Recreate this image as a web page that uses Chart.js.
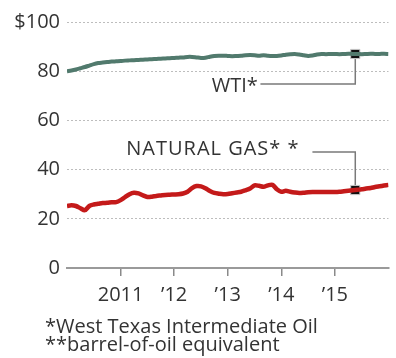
<!DOCTYPE html>
<html>
<head>
<meta charset="utf-8">
<script src="https://cdn.jsdelivr.net/npm/chart.js@4"></script>
<style>
  body { margin: 0; background: #fff; }
  canvas { display: block; }
</style>
</head>
<body>
<canvas id="chart" width="396" height="358"></canvas>
<script>
// monthly values, Jan 2010 to Jan 2016
const startYear = 2010;
const wti = [
  80.0, 80.3, 80.7, 81.2, 81.7, 82.3, 82.9, 83.3, 83.5, 83.7, 83.9, 84.0,
  84.1, 84.3, 84.4, 84.5, 84.6, 84.7, 84.8, 84.9, 85.0, 85.1, 85.2, 85.3,
  85.4, 85.5, 85.6, 85.8, 85.8, 85.6, 85.4, 85.5, 85.9, 86.2, 86.3, 86.3,
  86.2, 86.1, 86.2, 86.3, 86.5, 86.6, 86.5, 86.3, 86.5, 86.3, 86.2, 86.2,
  86.4, 86.7, 86.9, 87.0, 86.8, 86.5, 86.2, 86.4, 86.8, 87.0, 86.9, 87.0,
  87.0, 86.9, 87.0, 87.1, 87.0, 87.0, 86.9, 87.0, 87.1, 87.0, 87.0, 87.1,
  87.0
];
const naturalGas = [
  25.2, 25.5, 25.2, 24.3, 23.5, 25.2, 25.8, 26.1, 26.4, 26.5, 26.7, 26.8,
  27.6, 28.8, 30.0, 30.6, 30.3, 29.5, 28.9, 29.0, 29.3, 29.5, 29.7, 29.8,
  29.9, 30.0, 30.3, 31.0, 32.5, 33.3, 33.2, 32.4, 31.3, 30.5, 30.2, 30.0,
  30.1, 30.4, 30.7, 31.0, 31.6, 32.3, 33.6, 33.4, 33.0, 33.6, 33.8, 32.0,
  31.0, 31.4, 31.0, 30.7, 30.5, 30.6, 30.8, 30.9, 30.9, 30.9, 30.9, 30.9,
  30.9, 31.0, 31.2, 31.4, 31.6, 31.8, 32.0, 32.3, 32.5, 32.9, 33.2, 33.5,
  33.8
];
const yearTicks = [2011, 2012, 2013, 2014, 2015];
const yTicks = [0, 20, 40, 60, 80, 100];

// callout markers
const calloutYear = 2015.38;
const wtiMarker = 87.0;
const gasMarker = 31.7;

const footnotes = ['*West Texas Intermediate Oil', '**barrel-of-oil equivalent'];

const toPoints = vals => vals.map((v, i) => ({ x: startYear + i / 12, y: v }));

const FONT = '"Open Sans", sans-serif';

const callouts = {
  id: 'callouts',
  beforeDatasetsDraw(chart) {
    const { ctx, scales: { x, y } } = chart;
    const mx = x.getPixelForValue(calloutYear);
    ctx.save();
    ctx.strokeStyle = '#7a7a7a';
    ctx.lineWidth = 1.5;
    // WTI leader
    let ly = y.getPixelForValue(74.8);
    ctx.beginPath();
    ctx.moveTo(x.getPixelForValue(2013.61), ly);
    ctx.lineTo(mx, ly);
    ctx.lineTo(mx, y.getPixelForValue(wtiMarker));
    ctx.stroke();
    // gas leader
    ly = y.getPixelForValue(47.2);
    ctx.beginPath();
    ctx.moveTo(x.getPixelForValue(2014.58), ly);
    ctx.lineTo(mx, ly);
    ctx.lineTo(mx, y.getPixelForValue(gasMarker));
    ctx.stroke();
    ctx.restore();
  },
  afterDraw(chart) {
    const { ctx, scales: { x, y } } = chart;
    ctx.save();
    ctx.fillStyle = '#333';
    ctx.font = '20px ' + FONT;
    ctx.textBaseline = 'middle';
    ctx.textAlign = 'right';
    ctx.fillText('WTI*', x.getPixelForValue(2013.56), y.getPixelForValue(74.0));
    ctx.letterSpacing = '1px';
    ctx.fillText('NATURAL GAS* *', x.getPixelForValue(2014.34), y.getPixelForValue(48.4));
    ctx.letterSpacing = '0px';
    ctx.textAlign = 'left';
    ctx.fillText(footnotes[0], 45, 327);
    ctx.fillText(footnotes[1], 45, 345);
    ctx.restore();
  }
};

const ctx = document.getElementById('chart').getContext('2d');
const myChart = new Chart(ctx, {
  type: 'line',
  data: {
    datasets: [
      {
        label: 'WTI',
        data: toPoints(wti),
        borderColor: '#517a6d',
        borderWidth: 4,
        pointRadius: 0,
        tension: 0.3
      },
      {
        label: 'Natural gas',
        data: toPoints(naturalGas),
        borderColor: '#c41a1a',
        borderWidth: 4.5,
        pointRadius: 0,
        tension: 0.3
      },
      {
        label: 'markers',
        type: 'scatter',
        data: [{ x: calloutYear, y: wtiMarker }, { x: calloutYear, y: gasMarker }],
        pointStyle: 'rect',
        pointRadius: 6.5,
        backgroundColor: '#111',
        borderColor: '#c8c8c8',
        borderWidth: 1
      }
    ]
  },
  plugins: [callouts],
  options: {
    responsive: false,
    animation: false,
    layout: { padding: { top: 22, right: 0, left: 0, bottom: 0 } },
    plugins: {
      legend: { display: false },
      tooltip: { enabled: false }
    },
    scales: {
      x: {
        type: 'linear',
        min: 2010,
        max: 2016,
        afterBuildTicks: scale => { scale.ticks = yearTicks.map(v => ({ value: v })); },
        afterFit: scale => { scale.height = 90; },
        grid: {
          drawOnChartArea: false,
          drawTicks: true,
          tickLength: 8,
          color: '#8a8a8a',
          lineWidth: 1.5
        },
        border: { display: true, color: '#9a9a9a', width: 2 },
        ticks: {
          padding: 7,
          color: '#333',
          font: { family: FONT, size: 20 },
          maxRotation: 0,
          callback: v => v === 2011 ? '2011' : '\u2019' + String(v).slice(2)
        }
      },
      y: {
        min: 0,
        max: 100,
        afterBuildTicks: scale => { scale.ticks = yTicks.map(v => ({ value: v })); },
        afterFit: scale => { scale.width = 67; },
        grid: {
          drawTicks: false,
          color: ctx => ctx.tick && ctx.tick.value === 0 ? 'rgba(0,0,0,0)' : '#bdbdbd',
          lineWidth: 1
        },
        border: { display: false, dash: [2, 2] },
        ticks: {
          padding: 7,
          color: '#333',
          font: { family: FONT, size: 20 },
          callback: v => v === 100 ? '$100' : String(v)
        }
      }
    }
  }
});
</script>
</body>
</html>
